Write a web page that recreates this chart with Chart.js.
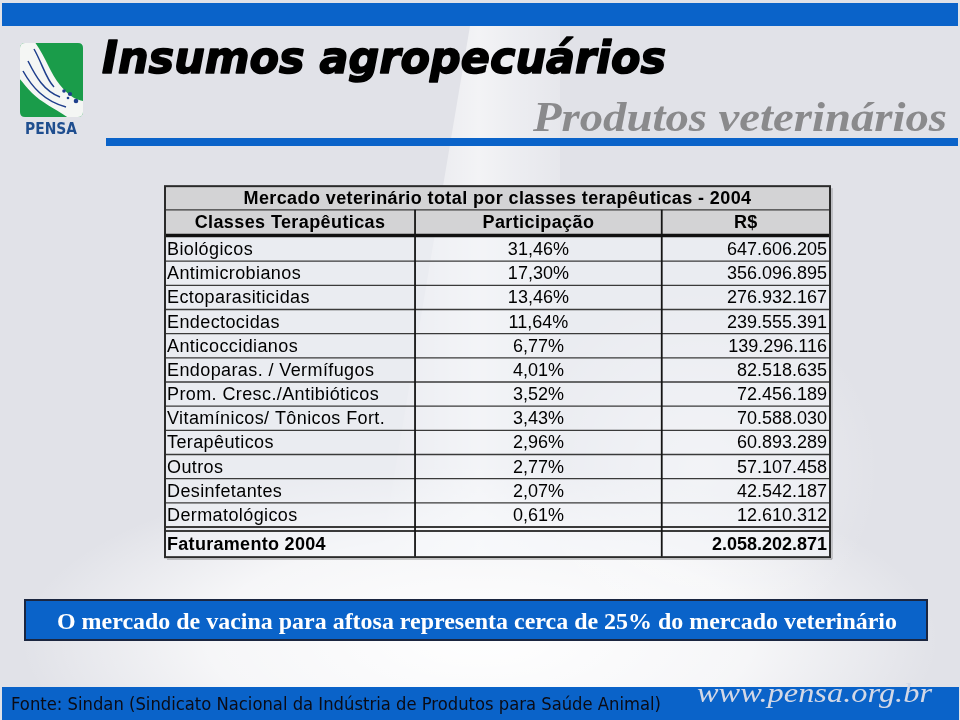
<!DOCTYPE html>
<html>
<head>
<meta charset="utf-8">
<script src="https://cdn.jsdelivr.net/npm/chart.js@4/dist/chart.umd.min.js"></script>
<style>
  html, body { margin: 0; padding: 0; background: #e3e4e9; }
  #wrap { width: 960px; height: 720px; position: relative; }
  canvas { display: block; }
</style>
</head>
<body>
<div id="wrap"><canvas id="c" width="960" height="720"></canvas></div>
<script>
// ---------- DATA ----------
const slideTitle = 'Insumos agropecuários';
const slideSubtitle = 'Produtos veterinários';
const tableTitle = 'Mercado veterinário total por classes terapêuticas - 2004';
const headers = ['Classes Terapêuticas', 'Participação', 'R$'];
const categories = [
  'Biológicos', 'Antimicrobianos', 'Ectoparasiticidas', 'Endectocidas',
  'Anticoccidianos', 'Endoparas. / Vermífugos', 'Prom. Cresc./Antibióticos',
  'Vitamínicos/ Tônicos Fort.', 'Terapêuticos', 'Outros', 'Desinfetantes',
  'Dermatológicos'
];
const participacao = [31.46, 17.30, 13.46, 11.64, 6.77, 4.01, 3.52, 3.43, 2.96, 2.77, 2.07, 0.61];
const valoresRS = [647606205, 356096895, 276932167, 239555391, 139296116, 82518635,
                   72456189, 70588030, 60893289, 57107458, 42542187, 12610312];
const totalLabel = 'Faturamento 2004';
const totalRS = 2058202871;
const noteText = 'O mercado de vacina para aftosa representa cerca de 25% do mercado veterinário';
const sourceText = 'Fonte: Sindan (Sindicato Nacional da Indústria de Produtos para Saúde Animal)';
const siteText = 'www.pensa.org.br';

// ---------- LAYOUT (not data) ----------
const colEdges = [0, 37.6, 74.7, 100]; // column boundaries in x-scale units

function fmtPct(v) { return v.toFixed(2).replace('.', ',') + '%'; }
function fmtRS(v) {
  const s = String(Math.round(v));
  let out = '';
  for (let i = 0; i < s.length; i++) {
    if (i > 0 && (s.length - i) % 3 === 0) out += '.';
    out += s[i];
  }
  return out;
}

function fitText(ctx, text, x, y, width, align, strokeW) {
  const w = ctx.measureText(text).width;
  const sx = width / w;
  ctx.save();
  let ox = x;
  if (align === 'center') ox = x - width / 2;
  else if (align === 'right') ox = x - width;
  ctx.translate(ox, y);
  ctx.scale(sx, 1);
  ctx.textAlign = 'left';
  ctx.fillText(text, 0, 0);
  if (strokeW) {
    ctx.lineWidth = strokeW;
    ctx.strokeStyle = ctx.fillStyle;
    ctx.lineJoin = 'round';
    ctx.strokeText(text, 0, 0);
  }
  ctx.restore();
}

const backgroundPlugin = {
  id: 'slideBackground',
  beforeDraw(chart) {
    const ctx = chart.ctx;
    const W = chart.width, H = chart.height;
    ctx.save();
    ctx.fillStyle = '#e1e2e8';
    ctx.fillRect(0, 0, W, H);
    // soft white streak (milk splash) through the middle
    let g = ctx.createLinearGradient(380, 0, 600, 0);
    g.addColorStop(0, 'rgba(255,255,255,0)');
    g.addColorStop(0.45, 'rgba(255,255,255,0.6)');
    g.addColorStop(0.6, 'rgba(255,255,255,0.4)');
    g.addColorStop(1, 'rgba(255,255,255,0)');
    ctx.fillStyle = g;
    ctx.beginPath();
    ctx.moveTo(470, 26); ctx.lineTo(560, 26); ctx.lineTo(560, 560); ctx.lineTo(380, 560); ctx.closePath();
    ctx.fill();
    // bottom white splash
    let r = ctx.createRadialGradient(480, 640, 40, 480, 640, 460);
    r.addColorStop(0, 'rgba(255,255,255,0.95)');
    r.addColorStop(0.55, 'rgba(255,255,255,0.7)');
    r.addColorStop(1, 'rgba(255,255,255,0)');
    ctx.fillStyle = r;
    ctx.save();
    ctx.translate(480, 640); ctx.scale(1, 0.38); ctx.translate(-480, -640);
    ctx.beginPath(); ctx.arc(480, 640, 460, 0, Math.PI * 2); ctx.fill();
    ctx.restore();
    // right side faint drop
    let r2 = ctx.createRadialGradient(700, 470, 10, 700, 470, 180);
    r2.addColorStop(0, 'rgba(255,255,255,0.5)');
    r2.addColorStop(1, 'rgba(255,255,255,0)');
    ctx.fillStyle = r2;
    ctx.fillRect(500, 280, 400, 380);

    // top blue band
    ctx.fillStyle = '#0a63c9';
    ctx.fillRect(2, 3, W - 4, 23);
    // blue underline of the heading
    ctx.fillRect(106, 138, W - 108, 8);

    // logo
    drawLogo(ctx);

    // titles
    ctx.fillStyle = '#000';
    ctx.textBaseline = 'alphabetic';
    ctx.font = 'italic bold 44px "DejaVu Sans", Verdana, sans-serif';
    fitText(ctx, slideTitle, 102, 73, 564, 'left', 1.6);
    ctx.fillStyle = '#8a8a8c';
    ctx.font = 'italic bold 42px "Liberation Serif", "Times New Roman", serif';
    fitText(ctx, slideSubtitle, 533, 131, 414, 'left');

    // note box
    ctx.fillStyle = '#0a63c9';
    ctx.fillRect(25, 600, 902, 40);
    ctx.lineWidth = 2;
    ctx.strokeStyle = '#1b2640';
    ctx.strokeRect(25, 600, 902, 40);
    ctx.fillStyle = '#ffffff';
    ctx.font = 'bold 24px "Liberation Serif", "Times New Roman", serif';
    ctx.textBaseline = 'alphabetic';
    fitText(ctx, noteText, 57, 629, 840, 'left');

    // footer bar
    ctx.fillStyle = '#0a63c9';
    ctx.fillRect(2, 687, W - 3, 33);
    ctx.fillStyle = '#0b0b14';
    ctx.font = '18px "DejaVu Sans", Tahoma, sans-serif';
    fitText(ctx, sourceText, 11, 710, 650, 'left');
    ctx.fillStyle = '#d3d8e6';
    ctx.font = 'italic 28px "Liberation Serif", "Times New Roman", serif';
    fitText(ctx, siteText, 697, 702, 235, 'left');
    ctx.restore();
  }
};

function drawLogo(ctx) {
  ctx.save();
  const x = 20, y = 43, w = 63, h = 74, rr = 5;
  ctx.beginPath();
  ctx.moveTo(x + rr, y); ctx.lineTo(x + w - rr, y); ctx.quadraticCurveTo(x + w, y, x + w, y + rr);
  ctx.lineTo(x + w, y + h - rr); ctx.quadraticCurveTo(x + w, y + h, x + w - rr, y + h);
  ctx.lineTo(x + rr, y + h); ctx.quadraticCurveTo(x, y + h, x, y + h - rr);
  ctx.lineTo(x, y + rr); ctx.quadraticCurveTo(x, y, x + rr, y); ctx.closePath();
  ctx.fillStyle = '#1a9c4a';
  ctx.fill();
  ctx.clip();
  // white swoosh
  ctx.fillStyle = '#f4f6f4';
  ctx.beginPath();
  ctx.moveTo(x - 2, y - 2);
  ctx.lineTo(x + 14, y - 2);
  ctx.bezierCurveTo(x + 26, y + 14, x + 30, y + 30, x + 40, y + 42);
  ctx.bezierCurveTo(x + 48, y + 52, x + 56, y + 58, x + w + 2, y + 58);
  ctx.lineTo(x + w + 2, y + h + 2);
  ctx.lineTo(x + 50, y + h + 2);
  ctx.bezierCurveTo(x + 36, y + 66, x + 22, y + 60, x + 12, y + 50);
  ctx.bezierCurveTo(x + 6, y + 44, x + 2, y + 38, x - 2, y + 34);
  ctx.closePath();
  ctx.fill();
  // blue curves
  ctx.strokeStyle = '#1f3f8c';
  ctx.lineWidth = 1.5;
  ctx.beginPath();
  ctx.moveTo(x + 3, y + 28); ctx.bezierCurveTo(x + 12, y + 44, x + 24, y + 58, x + 46, y + 64); ctx.stroke();
  ctx.beginPath();
  ctx.moveTo(x + 8, y + 18); ctx.bezierCurveTo(x + 16, y + 34, x + 24, y + 48, x + 40, y + 54); ctx.stroke();
  ctx.beginPath();
  ctx.moveTo(x + 14, y + 6); ctx.bezierCurveTo(x + 22, y + 20, x + 26, y + 36, x + 34, y + 44); ctx.stroke();
  ctx.fillStyle = '#1f3f8c';
  [[x + 44, y + 48, 1.8], [x + 50, y + 51, 2.1], [x + 56, y + 58, 2.3], [x + 48, y + 55, 1.3]].forEach(d => {
    ctx.beginPath(); ctx.arc(d[0], d[1], d[2], 0, Math.PI * 2); ctx.fill();
  });
  ctx.restore();
  ctx.fillStyle = '#1f4e8f';
  ctx.font = 'bold 15px "DejaVu Sans", sans-serif';
  ctx.textBaseline = 'alphabetic';
  fitText(ctx, 'PENSA', 25, 134, 52, 'left');
}

const tablePlugin = {
  id: 'tableCells',
  afterDatasetsDraw(chart) {
    const ctx = chart.ctx;
    const xs = chart.scales.x, ys = chart.scales.y;
    const area = chart.chartArea;
    const n = categories.length;
    const rowH = (area.bottom - area.top) / n;
    const cx = colEdges.map(v => xs.getPixelForValue(v));
    const left = cx[0], right = cx[3];
    const titleTop = area.top - 2 * rowH - 2.5;
    const headTop = area.top - rowH - 3;
    const totTop = area.bottom + 4;
    const totBot = totTop + rowH + 2;
    ctx.save();
    // header fills
    ctx.fillStyle = '#d3d3d5';
    ctx.fillRect(left, titleTop, right - left, area.top - titleTop);
    // data fills
    ctx.fillStyle = 'rgba(244,245,250,0.5)';
    ctx.fillRect(left, area.top, right - left, area.bottom - area.top);
    ctx.fillRect(left, totTop, right - left, totBot - totTop);

    // horizontal lines between data rows
    ctx.strokeStyle = '#3a3a3a';
    ctx.lineWidth = 1.3;
    for (let i = 1; i < n; i++) {
      const yy = ys.getPixelForValue(i) - rowH / 2;
      ctx.beginPath(); ctx.moveTo(left, yy); ctx.lineTo(right, yy); ctx.stroke();
    }
    // line between title and header
    ctx.beginPath(); ctx.moveTo(left, headTop); ctx.lineTo(right, headTop); ctx.stroke();
    // bottom of data rows & top of total (double)
    ctx.lineWidth = 1.8;
    ctx.beginPath(); ctx.moveTo(left, area.bottom); ctx.lineTo(right, area.bottom); ctx.stroke();
    ctx.beginPath(); ctx.moveTo(left, totTop); ctx.lineTo(right, totTop); ctx.stroke();
    // thick line under headers
    ctx.strokeStyle = '#111';
    ctx.lineWidth = 3.5;
    ctx.beginPath(); ctx.moveTo(left, area.top - 1.5); ctx.lineTo(right, area.top - 1.5); ctx.stroke();
    // vertical column lines
    ctx.lineWidth = 1.8;
    ctx.strokeStyle = '#151515';
    for (let c = 1; c < 3; c++) {
      ctx.beginPath(); ctx.moveTo(cx[c], headTop); ctx.lineTo(cx[c], totBot); ctx.stroke();
    }
    // outer border
    ctx.strokeStyle = '#2a2a2a';
    ctx.lineWidth = 2;
    ctx.strokeRect(left, titleTop, right - left, totBot - titleTop);
    ctx.strokeStyle = 'rgba(90,90,90,0.5)';
    ctx.lineWidth = 1;
    ctx.beginPath(); ctx.moveTo(right + 2, titleTop + 2); ctx.lineTo(right + 2, totBot + 2); ctx.lineTo(left + 2, totBot + 2); ctx.stroke();

    // texts
    ctx.fillStyle = '#000';
    ctx.textBaseline = 'middle';
    ctx.font = 'bold 18px "Liberation Sans", Arial, sans-serif';
    ctx.letterSpacing = '0.4px';
    ctx.textAlign = 'center';
    ctx.fillText(tableTitle, (left + right) / 2, (titleTop + headTop) / 2 + 1);
    for (let c = 0; c < 3; c++) {
      ctx.fillText(headers[c], (cx[c] + cx[c + 1]) / 2, (headTop + area.top) / 2);
    }
    ctx.font = '18px "Liberation Sans", Arial, sans-serif';
    for (let i = 0; i < n; i++) {
      const yy = ys.getPixelForValue(i) + 1;
      ctx.letterSpacing = '0.4px';
      ctx.textAlign = 'left';
      ctx.fillText(categories[i], left + 2, yy);
      ctx.letterSpacing = '0px';
      ctx.textAlign = 'center';
      ctx.fillText(fmtPct(participacao[i]), (cx[1] + cx[2]) / 2, yy);
      ctx.textAlign = 'right';
      ctx.fillText(fmtRS(valoresRS[i]), right - 3, yy);
    }
    ctx.font = 'bold 18px "Liberation Sans", Arial, sans-serif';
    const ty = (totTop + totBot) / 2 + 1;
    ctx.letterSpacing = '0.3px';
    ctx.textAlign = 'left';
    ctx.fillText(totalLabel, left + 2, ty);
    ctx.letterSpacing = '0px';
    ctx.textAlign = 'right';
    ctx.fillText(fmtRS(totalRS), right - 3, ty);
    ctx.restore();
  }
};

new Chart(document.getElementById('c'), {
  type: 'bar',
  data: {
    labels: categories,
    datasets: [{
      label: 'Participação',
      data: participacao,
      backgroundColor: 'rgba(0,0,0,0)',
      borderWidth: 0
    }]
  },
  options: {
    indexAxis: 'y',
    responsive: false,
    animation: false,
    devicePixelRatio: 1,
    layout: { padding: { left: 165, right: 130, top: 237, bottom: 193 } },
    plugins: { legend: { display: false }, tooltip: { enabled: false }, title: { display: false } },
    scales: {
      x: { type: 'linear', min: 0, max: 100, display: false },
      y: { type: 'category', display: false }
    }
  },
  plugins: [backgroundPlugin, tablePlugin]
});
</script>
</body>
</html>
